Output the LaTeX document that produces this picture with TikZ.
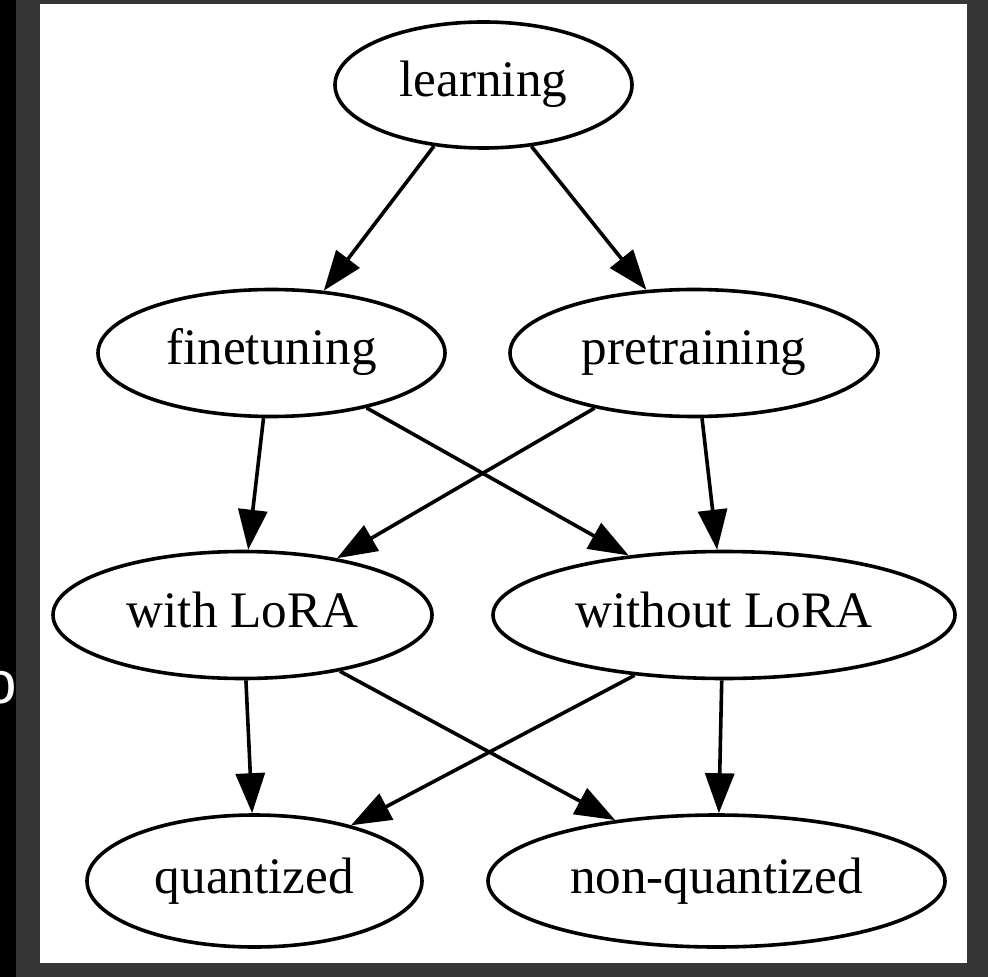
\documentclass[tikz,border=0pt]{standalone}
\usepackage{fontspec}
\setmainfont{Liberation Serif}
\newfontfamily\strayfont{Liberation Sans}
\usetikzlibrary{arrows.meta,shapes.geometric}
\definecolor{framegray}{HTML}{363636}
\tikzset{
  gvnode/.style={draw=black, line width=1.8pt, ellipse, inner sep=0pt,
    font=\fontsize{25.6}{30}\selectfont, text height=18pt, text depth=6pt},
  gvedge/.style={draw=black, line width=1.8pt, -{Triangle[length=20pt,width=14.5pt]}}
}
\begin{document}
\begin{tikzpicture}[x=0.5pt,y=-0.5pt]
\useasboundingbox (0,0) rectangle (988,977);
\clip (0,0) rectangle (988,977);
\fill[framegray] (0,0) rectangle (988,977);
\fill[black] (0,0) rectangle (16,977);
\fill[white] (40,4) rectangle (967,963);
\node[text=white, font=\strayfont\fontsize{30}{34}\selectfont, inner sep=0pt] (stray) at (0,688) {o};

\node[gvnode, minimum width=148.5pt, minimum height=63pt] at (483.5,85) (learning) {learning};
\node[gvnode, minimum width=173.5pt, minimum height=63.5pt] at (271.5,353) (finetuning) {finetuning};
\node[gvnode, minimum width=184pt, minimum height=63.5pt] at (694,353) (pretraining) {pretraining};
\node[gvnode, minimum width=189.5pt, minimum height=63.5pt] at (242.5,615) (withlora) {with LoRA};
\node[gvnode, minimum width=231pt, minimum height=63.5pt] at (724,615) (withoutlora) {without LoRA};
\node[gvnode, minimum width=167.5pt, minimum height=66pt] at (254.5,881) (quantized) {quantized};
\node[gvnode, minimum width=228.5pt, minimum height=66pt] at (716.5,881) (nonquantized) {non-quantized};

\draw[gvedge] (learning.231.6) -- (finetuning.50.5);
\draw[gvedge] (learning.308.4) -- (pretraining.127.9);
\draw[gvedge] (finetuning.263.4) -- (withlora.85.2);
\draw[gvedge] (finetuning.330.9) -- (withoutlora.148.8);
\draw[gvedge] (pretraining.209.9) -- (withlora.31.5);
\draw[gvedge] (pretraining.277.9) -- (withoutlora.96.1);
\draw[gvedge] (withlora.273) -- (quantized.92.2);
\draw[gvedge] (withlora.330.9) -- (nonquantized.149);
\draw[gvedge] (withoutlora.214) -- (quantized.30.9);
\draw[gvedge] (withoutlora.268.2) -- (nonquantized.88.7);
\end{tikzpicture}
\end{document}
